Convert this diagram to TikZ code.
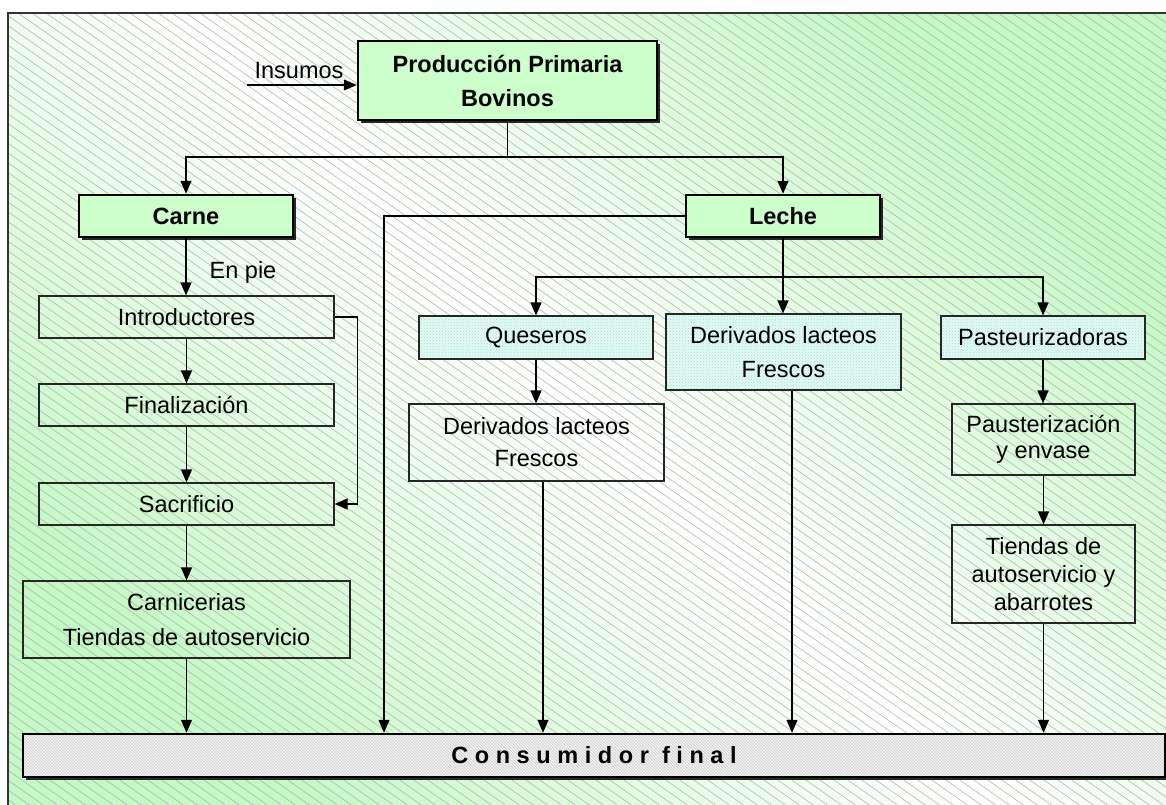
\documentclass[tikz,border=0pt]{standalone}
\usepackage{fontspec}
\setmainfont{Liberation Sans}
\newfontfamily\spacedfont[LetterSpace=28]{Liberation Sans}
\usetikzlibrary{arrows.meta,shadows,patterns}
\definecolor{bggreen}{HTML}{C4F8C4}
\definecolor{boxgreen}{HTML}{CCFFCC}
\definecolor{tealfill}{HTML}{E4FAF4}
\definecolor{tealdot}{HTML}{9EE0D0}
\definecolor{hatchc}{HTML}{ACACAC}
\tikzset{
  plainbox/.style={draw=black!85, line width=1.2pt, inner sep=0pt, align=center},
  tealbox/.style={plainbox, preaction={fill=tealfill}, pattern=crosshatch dots, pattern color=tealdot},
  greenbox/.style={drop shadow={shadow xshift=3pt, shadow yshift=-3pt, fill=black!85, opacity=1},
    draw=black, line width=2.5pt, fill=boxgreen, inner sep=0pt, align=center,
    font=\fontsize{23.5}{34}\selectfont\bfseries},
  consbox/.style={drop shadow={shadow xshift=3pt, shadow yshift=-3pt, fill=black!85, opacity=1},
    preaction={fill=gray!10}, pattern=north west lines, pattern color=gray!40,
    draw=black, line width=2.5pt, inner sep=0pt},
  conn/.style={line width=1.2pt, draw=black},
  arr/.style={conn, -{Triangle[length=13pt,width=11pt]}},
  hatchline/.style={draw=hatchc, line width=0.5pt},
  framebox/.style={draw=black!80, line width=1.8pt},
}
\begin{document}
\begin{tikzpicture}[x=1pt, y=-1pt, font=\fontsize{23.5}{34}\selectfont]
\useasboundingbox (0,0) rectangle (1166,804);
% background
\begin{scope}
  \clip (8,13) rectangle (1170,810);
  \shade[top color=bggreen, bottom color=bggreen, middle color=white, shading angle=-45] (8,13) rectangle (1166,804);
  \foreach \i in {-1200,-1186,...,1166} \draw[hatchline] (\i,13) -- ++(1150,805);
\end{scope}
\draw[framebox] (1170,13) -- (8,13) -- (8,810);

% nodes
\node[greenbox, minimum width=299pt, minimum height=79pt] (prod) at (507.5,80.5) {Producción Primaria\\Bovinos};
\node[anchor=base] (ins) at (299,78) {Insumos};
\node[greenbox, minimum width=214pt, minimum height=42pt] (carne) at (186,216) {Carne};
\node[greenbox, minimum width=194pt, minimum height=42pt] (leche) at (783,216) {Leche};
\node[anchor=base] (enpie) at (243,278) {En pie};

\node[plainbox, minimum width=295pt, minimum height=42pt] (intro) at (186.5,317) {Introductores};
\node[plainbox, minimum width=295pt, minimum height=42pt] (final) at (186.5,405) {Finalización};
\node[plainbox, minimum width=295pt, minimum height=42pt] (sacri) at (186.5,504) {Sacrificio};
\node[plainbox, minimum width=327pt, minimum height=77pt, font=\fontsize{23.5}{35}\selectfont] (carni) at (186.5,619.5) {Carnicerias\\Tiendas de autoservicio};

\node[tealbox, minimum width=234pt, minimum height=43pt] (queseros) at (536,337.5) {Queseros};
\node[plainbox, minimum width=255pt, minimum height=77pt, font=\fontsize{23.5}{32}\selectfont] (derivL) at (536.5,442.5) {Derivados lacteos\\Frescos};
\node[tealbox, minimum width=235pt, minimum height=76pt, font=\fontsize{23.5}{34}\selectfont] (derivM) at (783.5,352) {Derivados lacteos\\Frescos};
\node[tealbox, minimum width=204pt, minimum height=43pt] (pasteur) at (1043,337.5) {Pasteurizadoras};
\node[plainbox, minimum width=183pt, minimum height=71pt, font=\fontsize{23.5}{26}\selectfont] (paust) at (1043.5,439.5) {Pausterización\\y envase};
\node[plainbox, minimum width=183pt, minimum height=98pt, font=\fontsize{23.5}{28}\selectfont] (tiendas) at (1043.5,574) {Tiendas de\\autoservicio y\\abarrotes};

\node[consbox, minimum width=1142pt, minimum height=43pt] (consum) at (594,755.5) {\spacedfont\bfseries Consumidor final};

% connectors
\coordinate (insA) at (247,85);
\draw[arr] (insA) -- (insA -| prod.west);
\coordinate (j1) at (507.5,157);
\draw[conn] (prod.south) -- (j1);
\draw[arr] (j1) -| (carne.north);
\draw[arr] (j1) -| (leche.north);
\coordinate (byp) at (384,216);
\draw[arr] (leche.west) -- (byp) -- (byp |- consum.north);

\draw[arr] (carne.south) -- (carne.south |- intro.north);
\draw[arr] (intro.south) -- (final.north);
\draw[arr] (final.south) -- (sacri.north);
\draw[arr] (intro.east) -- ++(23,0) |- (sacri.east);
\draw[arr] (sacri.south) -- (carni.north);
\draw[arr] (carni.south) -- (carni.south |- consum.north);

\coordinate (j2) at (783,277);
\draw[conn] (leche.south) -- (j2);
\draw[arr] (j2) -| (queseros.north);
\draw[arr] (j2) -| (pasteur.north);
\draw[arr] (j2) -- (j2 |- derivM.north);
\draw[arr] (queseros.south) -- (queseros.south |- derivL.north);
\draw[arr] ([xshift=6.5pt]derivL.south) -- ([xshift=6.5pt]derivL.south |- consum.north);
\draw[arr] ([xshift=8.5pt]derivM.south) -- ([xshift=8.5pt]derivM.south |- consum.north);
\draw[arr] (pasteur.south) -- (pasteur.south |- paust.north);
\draw[arr] (paust.south) -- (paust.south |- tiendas.north);
\draw[arr] (tiendas.south) -- (tiendas.south |- consum.north);
\end{tikzpicture}
\end{document}
